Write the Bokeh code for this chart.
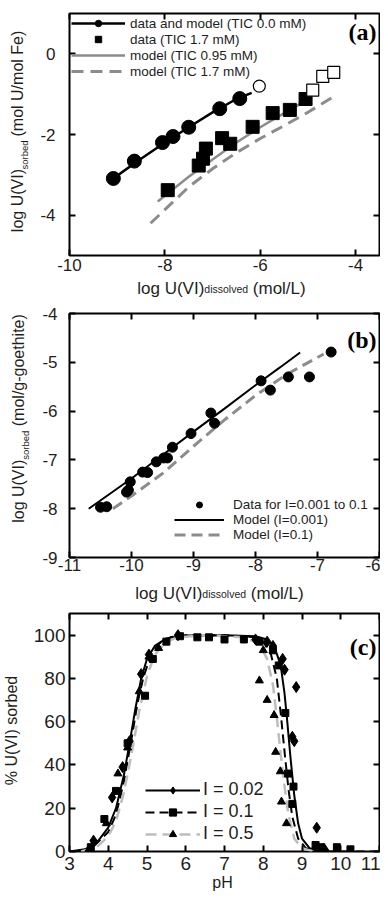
from bokeh.plotting import figure
from bokeh.models import Range1d, LinearAxis, FixedTicker, Label, Legend, LegendItem
from bokeh.layouts import column
from bokeh.embed import file_html
from bokeh.resources import INLINE

NB = "\u00a0"

# ---------------- data: panel (a) ----------------
a_circle_x = [-9.08, -8.64, -8.05, -7.83, -7.50, -6.85, -6.43]
a_circle_y = [-3.09, -2.66, -2.20, -2.05, -1.82, -1.36, -1.11]
a_open_circle_x = [-6.02]
a_open_circle_y = [-0.80]
a_model0_x = [-9.15, -8.6, -8.0, -7.5, -7.0, -6.5, -6.18]
a_model0_y = [-3.15, -2.68, -2.20, -1.82, -1.45, -1.12, -0.97]
a_square_x = [-7.94, -7.29, -7.20, -7.14, -6.80, -6.63, -6.16, -5.74, -5.38, -5.05]
a_square_y = [-3.38, -2.77, -2.60, -2.35, -2.09, -2.23, -1.81, -1.47, -1.39, -1.12]
a_open_square_x = [-4.90, -4.69, -4.46]
a_open_square_y = [-0.90, -0.56, -0.46]
a_model095_x = [-8.15, -7.5, -7.0, -6.5, -6.0, -5.5, -4.92]
a_model095_y = [-3.66, -3.05, -2.62, -2.20, -1.82, -1.47, -1.08]
a_model17_x = [-8.30, -7.5, -7.0, -6.5, -6.0, -5.5, -5.0, -4.45]
a_model17_y = [-4.20, -3.30, -2.85, -2.45, -2.10, -1.78, -1.45, -1.05]
a_xticks = [-10, -8, -6, -4]
a_xtick_labels = ["-10", "-8", "-6", "-4"]
a_yticks = [-4, -2, 0]
a_ytick_labels = ["-4", "-2", "0"]
a_legend = ["data and model (TIC 0.0 mM)", "data (TIC 1.7 mM)",
            "model (TIC 0.95 mM)", "model (TIC 1.7 mM)"]
a_xtitle = [("log U(VI)", "main"), ("dissolved", "sub"), (NB + "(mol/L)", "main")]
a_ytitle = [("log U(VI)", "main"), ("sorbed", "sub"), (NB + "(mol U/mol Fe)", "main")]

# ---------------- data: panel (b) ----------------
b_x = [-10.50, -10.40, -10.08, -10.05, -10.02, -9.82, -9.74, -9.60, -9.48, -9.42,
       -9.34, -9.04, -8.72, -8.66, -7.91, -7.76, -7.47, -7.13, -6.78]
b_y = [-7.97, -7.96, -7.66, -7.62, -7.45, -7.25, -7.26, -7.04, -6.96, -6.96,
       -6.74, -6.46, -6.04, -6.25, -5.38, -5.57, -5.30, -5.30, -4.79]
b_model001_x = [-10.69, -10.0, -9.5, -9.0, -8.5, -8.0, -7.6, -7.28]
b_model001_y = [-8.00, -7.38, -6.90, -6.42, -5.95, -5.47, -5.10, -4.80]
b_model01_x = [-10.30, -10.0, -9.5, -9.0, -8.5, -8.0, -7.5, -6.90]
b_model01_y = [-8.00, -7.74, -7.28, -6.72, -6.18, -5.68, -5.25, -4.83]
b_xticks = [-11, -10, -9, -8, -7, -6]
b_xtick_labels = ["-11", "-10", "-9", "-8", "-7", "-6"]
b_yticks = [-9, -8, -7, -6, -5, -4]
b_ytick_labels = ["-9", "-8", "-7", "-6", "-5", "-4"]
b_legend = ["Data for I=0.001 to 0.1", "Model (I=0.001)", "Model (I=0.1)"]
b_xtitle = [("log U(VI)", "main"), ("dissolved", "sub"), (NB + "(mol/L)", "main")]
b_ytitle = [("log U(VI)", "main"), ("sorbed", "sub"), (NB + "(mol/g-goethite)", "main")]

# ---------------- data: panel (c) ----------------
c_d_ph = [3.62, 4.10, 4.37, 4.55, 4.85, 5.05, 5.80, 7.80, 8.10, 8.25, 8.50, 8.55, 8.85, 8.75, 8.80, 9.38, 9.60]
c_d_pct = [5, 25, 39, 51, 82, 91, 100, 98, 97, 95, 89, 84, 76, 53, 51, 11, 0.5]
c_s_ph = [3.55, 3.90, 4.20, 4.50, 4.95, 5.15, 5.50, 5.85, 6.30, 6.60, 7.00, 7.50, 7.90, 8.25, 8.40, 8.57, 8.64, 8.78, 8.75, 9.35, 9.50, 9.90, 10.25]
c_s_pct = [2, 15, 28, 50, 72, 89, 97, 99.5, 99, 99, 98, 98, 97, 93, 86, 64, 36, 30, 22, 3, 2, 2, 1]
c_t_ph = [3.50, 3.95, 4.25, 4.50, 4.80, 5.05, 5.30, 8.00, 7.90, 8.10, 8.28, 8.32, 8.44, 8.47, 8.60]
c_t_pct = [1, 13, 36, 48, 74, 90, 94, 93, 79, 70, 63, 46, 37, 23, 13]
c_m002_ph = [3.0, 3.4, 3.7, 4.0, 4.2, 4.4, 4.55, 4.7, 4.85, 5.0, 5.2, 5.5, 6.0, 7.0, 7.8, 8.1, 8.3,
             8.45, 8.55, 8.62, 8.7, 8.8, 8.9, 9.0, 9.2, 9.5]
c_m002_pct = [0, 1, 4, 11, 20, 35, 50, 66, 80, 89, 95, 98.5, 99.8, 100, 99.5, 98, 94,
              86, 73, 60, 44, 26, 13, 6, 1.5, 0]
c_m01_ph = [3.3, 3.6, 4.0, 4.2, 4.4, 4.6, 4.75, 4.9, 5.1, 5.3, 5.6, 6.0, 7.0, 7.8, 8.0, 8.2, 8.35,
            8.45, 8.55, 8.65, 8.75, 8.9, 9.1, 9.5, 10.0, 11.0]
c_m01_pct = [0, 2, 9, 17, 32, 52, 68, 80, 91, 96, 99, 100, 100, 99, 97, 91, 80,
             64, 46, 29, 16, 6, 1.5, 0, 0, 0]
c_m05_ph = [3.3, 3.7, 4.0, 4.2, 4.4, 4.6, 4.8, 5.0, 5.2, 5.5, 5.8, 6.5, 7.5, 7.9, 8.1, 8.25, 8.35,
            8.45, 8.55, 8.65, 8.8, 9.0, 9.3]
c_m05_pct = [0, 2, 7, 14, 27, 45, 65, 81, 91, 97, 99, 100, 99, 96, 89, 77, 62,
             45, 30, 17, 6, 1.5, 0]
c_xticks = [3, 4, 5, 6, 7, 8, 9, 10, 11]
c_xtick_labels = ["3", "4", "5", "6", "7", "8", "9", "10", "11"]
c_yticks = [0, 20, 40, 60, 80, 100]
c_ytick_labels = ["0", "20", "40", "60", "80", "100"]
c_legend = ["I = 0.02", "I = 0.1", "I = 0.5"]
c_xtitle = [("pH", "main")]
c_ytitle = [("% U(VI) sorbed", "main")]

# ---------------- styling helpers ----------------
FONT = "Liberation Sans"
SERIF = "Liberation Serif"
TXT = "#1e1e1e"
GRAY = "#8c8c8c"
LGRAY = "#bdbdbd"
FRAME_W = 310

W = {" ": 278, NB: 278, "(": 333, ")": 333, "/": 278, "-": 333, ".": 278, "=": 584, "%": 889,
     "a": 556, "b": 556, "c": 500, "d": 556, "e": 556, "f": 278, "g": 556, "h": 556,
     "i": 222, "l": 222, "m": 833, "n": 556, "o": 556, "r": 333, "s": 500, "t": 278,
     "v": 500, "p": 556, "D": 722, "F": 611, "I": 278, "L": 556, "U": 722, "V": 667, "H": 722}


def tw(s, size):
    return sum(W.get(ch, 556) for ch in s) / 1000.0 * size


def base_axis(ticks, overrides):
    ax = LinearAxis(ticker=FixedTicker(ticks=ticks), major_label_overrides=overrides)
    ax.axis_line_color = None
    ax.minor_tick_line_color = None
    ax.minor_tick_in = 0
    ax.minor_tick_out = 0
    ax.major_label_text_font = FONT
    ax.major_label_text_color = TXT
    return ax


def make_fig(xr, yr, height, top, bottom, xt, xl, yt, yl, fs, xstand, ystand):
    fh = height - top - bottom
    p = figure(width=380, height=height, x_range=Range1d(*xr), y_range=Range1d(*yr),
               output_backend="svg", toolbar_location=None,
               min_border_left=69, min_border_right=1, min_border_top=top,
               min_border_bottom=bottom, x_axis_type=None, y_axis_type=None)
    p.xgrid.visible = False
    p.ygrid.visible = False
    p.outline_line_color = "black"
    p.outline_line_width = 2
    p.background_fill_color = "white"
    p.border_fill_color = "white"
    for loc, ticks, labels, show in [("below", xt, xl, True), ("above", xt, xl, False),
                                     ("left", yt, yl, True), ("right", yt, yl, False)]:
        ax = base_axis(ticks, dict(zip(ticks, labels)))
        ax.major_tick_in = 6
        ax.major_tick_out = 0
        ax.major_tick_line_width = 2
        ax.major_tick_line_color = "black"
        if show:
            ax.major_label_text_font_size = f"{fs}px"
            ax.major_label_standoff = ystand if loc == "left" else xstand
        else:
            ax.major_label_text_font_size = "1px"
            ax.major_label_text_color = None
            ax.major_label_standoff = 0
        p.add_layout(ax, loc)
    p._fh = fh
    return p


def add_title(p, side, parts, center, vis_dist, start_extent, main_size, sub_size,
              sub_shift, xr, yr):
    """Axis title drawn as tick labels of tick-less axes (keeps real SVG text
    outside the clipped frame, with a lowered subscript)."""
    sizes = {"main": main_size, "sub": sub_size}
    total = sum(tw(t, sizes[k]) for t, k in parts)
    pos = center - total / 2
    groups = {"sub": ([], []), "main": ([], [])}
    span = FRAME_W if side == "below" else p._fh
    lo, hi = (xr if side == "below" else yr)
    for t, k in parts:
        w = tw(t, sizes[k])
        c = pos + w / 2
        groups[k][0].append(round(lo + c / span * (hi - lo), 4))
        groups[k][1].append(t)
        pos += w
    cum = start_extent
    for k in ("sub", "main"):
        ticks, labels = groups[k]
        if not ticks:
            continue
        s = sizes[k]
        vd = vis_dist - (sub_shift if k == "sub" else 0)
        near = vd - (0.57 if side == "below" else 0.54) * s
        standoff = near - cum
        ax = base_axis(ticks, dict(zip(ticks, labels)))
        ax.major_tick_line_color = None
        ax.major_tick_in = 0
        ax.major_tick_out = 0
        ax.major_label_text_font_size = f"{s}px"
        ax.major_label_standoff = int(round(standoff))
        if side == "left":
            ax.major_label_orientation = "vertical"
        p.add_layout(ax, side)
        cum = cum + round(standoff) + 1.117 * s


def panel_tag(p, text, y):
    p.add_layout(Label(x=307, y=y, x_units="screen", y_units="screen", text=text,
                       text_font=SERIF, text_font_size="24px", text_font_style="bold",
                       text_color="black", text_align="right", text_baseline="alphabetic"))


# ---------------- panel (a) ----------------
a_xr, a_yr = (-10, -3.5), (-5, 1)
pa = make_fig(a_xr, a_yr, 300, 13, 43, a_xticks, a_xtick_labels,
              a_yticks, a_ytick_labels, 17, 3, 14)
ra_line0 = pa.line(a_model0_x, a_model0_y, line_color="black", line_width=2.5)
ra_c = pa.scatter(a_circle_x, a_circle_y, marker="circle", size=14, fill_color="black",
                  line_color="black")
pa.scatter(a_open_circle_x, a_open_circle_y, marker="circle", size=12, fill_color="white",
           line_color="black", line_width=1.2)
ra_m095 = pa.line(a_model095_x, a_model095_y, line_color=GRAY, line_width=2.5)
ra_m17 = pa.line(a_model17_x, a_model17_y, line_color=GRAY, line_width=3, line_dash="12 7")
ra_s = pa.scatter(a_square_x, a_square_y, marker="square", size=13, fill_color="black",
                  line_color="black")
pa.scatter(a_open_square_x, a_open_square_y, marker="square", size=12, fill_color="white",
           line_color="black", line_width=1.2)
leg_a = Legend(items=[LegendItem(label=a_legend[0], renderers=[ra_line0, ra_c]),
                      LegendItem(label=a_legend[1], renderers=[ra_s]),
                      LegendItem(label=a_legend[2], renderers=[ra_m095]),
                      LegendItem(label=a_legend[3], renderers=[ra_m17])],
               location="top_left", margin=2, padding=4, spacing=0,
               glyph_width=54, glyph_height=16, label_height=16, label_standoff=5,
               label_text_font=FONT, label_text_font_size="13.5px", label_text_color=TXT,
               background_fill_alpha=0, border_line_color=None)
pa.add_layout(leg_a)
panel_tag(pa, "(a)", 224)
add_title(pa, "below", a_xtitle, 152, 33, 3 + 1.117 * 17, 17, 10.5, -4, a_xr, a_yr)
add_title(pa, "left", a_ytitle, 125, 45, 14 + tw("-4", 17), 16, 9.5, 4, a_xr, a_yr)

# ---------------- panel (b) ----------------
b_xr, b_yr = (-11, -6), (-9, -4)
pb = make_fig(b_xr, b_yr, 305, 13, 48, b_xticks, b_xtick_labels,
              b_yticks, b_ytick_labels, 17, 1, 12)
rb_m1 = pb.line(b_model001_x, b_model001_y, line_color="black", line_width=2)
rb_m2 = pb.line(b_model01_x, b_model01_y, line_color=GRAY, line_width=3, line_dash="11 6")
rb_d = pb.scatter(b_x, b_y, marker="circle", size=10, fill_color="black", line_color="black")
leg_b = Legend(items=[LegendItem(label=b_legend[0], renderers=[rb_d]),
                      LegendItem(label=b_legend[1], renderers=[rb_m1]),
                      LegendItem(label=b_legend[2], renderers=[rb_m2])],
               location=(105, 15), padding=4, spacing=0, margin=0,
               glyph_width=50, glyph_height=15, label_height=15, label_standoff=9,
               label_text_font=FONT, label_text_font_size="13.5px", label_text_color=TXT,
               background_fill_alpha=0, border_line_color=None)
pb.add_layout(leg_b)
panel_tag(pb, "(b)", 218)
add_title(pb, "below", b_xtitle, 150, 36, 1 + 1.117 * 17, 17, 10.5, -4, b_xr, b_yr)
add_title(pb, "left", b_ytitle, 139, 44, 12 + tw("-4", 17), 16, 9.5, 4, b_xr, b_yr)

# ---------------- panel (c) ----------------
c_xr, c_yr = (3, 11), (0, 110)
pc = make_fig(c_xr, c_yr, 292, 8, 46, c_xticks, c_xtick_labels,
              c_yticks, c_ytick_labels, 19, 5, 4)
rc_m1 = pc.line(c_m002_ph, c_m002_pct, line_color="black", line_width=2)
rc_m2 = pc.line(c_m01_ph, c_m01_pct, line_color="black", line_width=2, line_dash="9 5")
rc_m3 = pc.line(c_m05_ph, c_m05_pct, line_color=LGRAY, line_width=2.5, line_dash="11 6")
rc_d = pc.scatter(c_d_ph, c_d_pct, marker="diamond", size=11, fill_color="black", line_color="black")
rc_s = pc.scatter(c_s_ph, c_s_pct, marker="square", size=7, fill_color="black", line_color="black")
rc_t = pc.scatter(c_t_ph, c_t_pct, marker="triangle", size=8, fill_color="black", line_color="black")
leg_c = Legend(items=[LegendItem(label=c_legend[0], renderers=[rc_m1, rc_d]),
                      LegendItem(label=c_legend[1], renderers=[rc_m2, rc_s]),
                      LegendItem(label=c_legend[2], renderers=[rc_m3, rc_t])],
               location=(76, 7), padding=4, spacing=1, margin=0,
               glyph_width=55, glyph_height=18, label_height=18, label_standoff=3,
               label_text_font=FONT, label_text_font_size="18px", label_text_color=TXT,
               background_fill_alpha=0, border_line_color=None)
pc.add_layout(leg_c)
panel_tag(pc, "(c)", 205)
add_title(pc, "below", c_xtitle, 153, 36, 5 + 1.117 * 19, 16, 10, 0, c_xr, c_yr)
add_title(pc, "left", c_ytitle, 121, 54, 4 + tw("100", 19), 16, 10, 0, c_xr, c_yr)

layout = column(pa, pb, pc, spacing=0)
open("out.html", "w").write(file_html(layout, INLINE))
